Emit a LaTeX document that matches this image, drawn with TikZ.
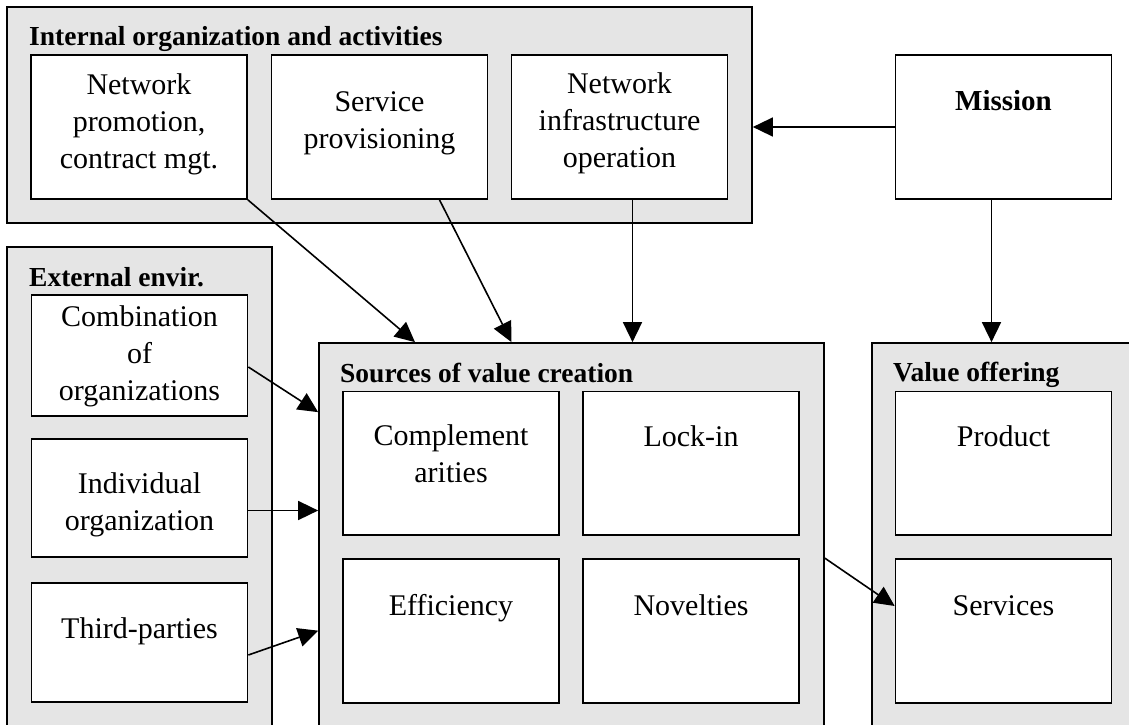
\documentclass[tikz,border=0pt]{standalone}
\usepackage{fontspec}
\setmainfont{Liberation Serif}
\usetikzlibrary{arrows.meta,calc}
\definecolor{panelgray}{HTML}{E5E5E5}
\begin{document}
\begin{tikzpicture}[x=1pt,y=-1pt,
  group/.style={draw=black, fill=panelgray, line width=1.7pt, rectangle, inner sep=0pt},
  cell/.style={draw=black, fill=white, line width=1.7pt, rectangle, inner sep=0pt,
               minimum width=216pt},
  txt/.style={font=\fontsize{30}{37}\selectfont, align=center, anchor=base, inner sep=0pt},
  grouptitle/.style={font=\fontsize{27.5}{32}\selectfont\bfseries, anchor=base west, inner sep=0pt},
  arr/.style={line width=1.6pt, -{Triangle[length=20pt,width=19pt]}}]
\useasboundingbox (0,0) rectangle (1129,725);
\clip (0,0) rectangle (1129,725);

% grouping panels
\node[group, minimum width=745pt, minimum height=216pt] (internal) at (379.5,115) {};
\node[group, minimum width=265pt, minimum height=493pt] (external) at (139.5,493.5) {};
\node[group, minimum width=505pt, minimum height=397pt] (sources) at (571.5,541.5) {};
\node[group, minimum width=264pt, minimum height=397pt] (valoff) at (1004,541.5) {};

\node[grouptitle] (internalT) at (29,45.5) {Internal organization and activities};
\node[grouptitle] (externalT) at (29,286.5) {External envir.};
\node[grouptitle] (sourcesT) at (340,382.5) {Sources of value creation};
\node[grouptitle] (valoffT) at (893,381.5) {Value offering};

% internal activities (multi-line labels are placed by their last baseline)
\node[cell, minimum height=144pt] (np) at (139,127) {};
\node[cell, minimum height=144pt] (sp) at (379.5,127) {};
\node[cell, minimum height=144pt] (ni) at (619.5,127) {};
\node[txt] (npT) at (139,168) {Network\\promotion,\\contract mgt.};
\node[txt] (spT) at (379.5,148) {Service\\provisioning};
\node[txt] (niT) at (619.5,167) {Network\\infrastructure\\operation};

% mission
\node[cell, minimum height=144pt] (mission) at (1003.5,127) {};
\node[txt, font=\fontsize{29}{37}\selectfont\bfseries] (missionT) at (1003.5,110) {Mission};

% external environment
\node[cell, minimum height=121pt] (comb) at (139.5,355.5) {};
\node[cell, minimum height=118pt] (indiv) at (139.5,498) {};
\node[cell, minimum height=119pt] (third) at (139.5,642.5) {};
\node[txt] (combT) at (139.5,400) {Combination\\of\\organizations};
\node[txt] (indivT) at (139.5,530) {Individual\\organization};
\node[txt] (thirdT) at (139.5,638) {Third-parties};

% sources of value creation
\node[cell, minimum height=143.5pt] (comp) at (451,463.25) {};
\node[cell, minimum height=143.5pt] (lock) at (691,463.25) {};
\node[cell, minimum height=144pt] (eff) at (451,631) {};
\node[cell, minimum height=144pt] (nov) at (691,631) {};
\node[txt] (compT) at (451,482) {Complement\\arities};
\node[txt] (lockT) at (691,446) {Lock-in};
\node[txt] (effT) at (451,615) {Efficiency};
\node[txt] (novT) at (691,615) {Novelties};

% value offering
\node[cell, minimum height=143.5pt] (prod) at (1003.5,463.25) {};
\node[cell, minimum height=144pt] (serv) at (1003.5,631) {};
\node[txt] (prodT) at (1003.5,446) {Product};
\node[txt] (servT) at (1003.5,615) {Services};

% connector end points
\coordinate (misOut) at ($(mission.south)+(-12,0)$);
\coordinate (niOut) at ($(ni.south)+(13,0)$);
\coordinate (indivOut) at ($(indiv.east)+(0,12.5)$);

% connectors
\draw[arr] (mission.west) -- (mission.west -| internal.east);
\draw[arr] (misOut) -- (misOut |- valoff.north);
\draw[arr] (np.south east) -- ($(sources.north)+(-156.5,0)$);
\draw[arr] ($(sp.south)+(60,0)$) -- ($(sources.north)+(-60,0)$);
\draw[arr] (niOut) -- (niOut |- sources.north);
\draw[arr] ($(comb.east)+(0,11.5)$) -- ($(sources.north west)+(0,70)$);
\draw[arr] (indivOut) -- (indivOut -| sources.west);
\draw[arr] ($(third.east)+(0,12.5)$) -- ($(sources.north west)+(0,288.5)$);
\draw[arr] ($(sources.north east)+(0,216)$) -- ($(serv.west)+(0,-25)$);
\end{tikzpicture}
\end{document}
